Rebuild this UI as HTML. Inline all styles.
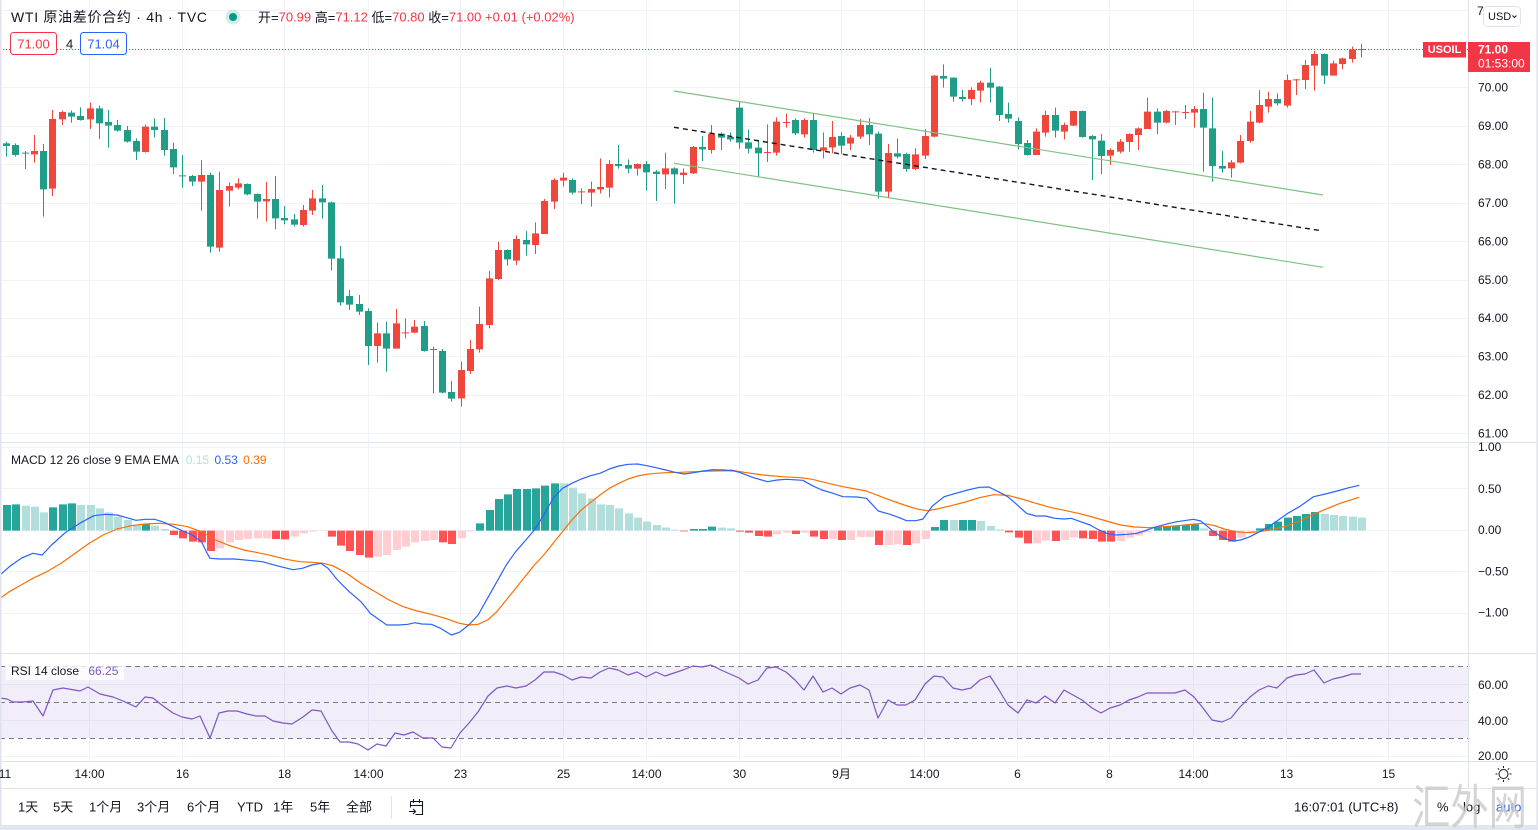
<!DOCTYPE html>
<html><head><meta charset="utf-8"><style>
html,body{margin:0;padding:0;background:#fff;width:1538px;height:830px;overflow:hidden}
svg{position:absolute;left:0;top:0;display:block}
</style></head><body>
<svg xmlns="http://www.w3.org/2000/svg" width="1538" height="830" viewBox="0 0 1538 830" font-family="'Liberation Sans','Noto Sans CJK SC',sans-serif">
<rect x="0" y="0" width="1538" height="830" fill="#fff"/>
<!-- grid -->
<g stroke="#f0f3fa" stroke-width="1">
<path d="M0 10.5H1468M0 49.5H1468M0 87.5H1468M0 126.5H1468M0 164.5H1468M0 203.5H1468M0 241.5H1468M0 280.5H1468M0 318.5H1468M0 356.5H1468M0 395.5H1468M0 433.5H1468M0 447.5H1468M0 488.5H1468M0 530.5H1468M0 571.5H1468M0 613.5H1468M0 684.5H1468M0 720.5H1468M0 756.5H1468"/>
<path d="M89.5 0V762M182.5 0V762M284.5 0V762M368.5 0V762M460.5 0V762M563.5 0V762M646.5 0V762M739.5 0V762M841.5 0V762M924.5 0V762M1017.5 0V762M1109.5 0V762M1193.5 0V762M1286.5 0V762M1388.5 0V762"/>
</g>
<!-- RSI band -->
<rect x="0" y="666" width="1468" height="72" fill="#7e57c2" fill-opacity="0.1"/>
<g stroke="#787b86" stroke-width="1" stroke-dasharray="5,4" fill="none">
<path d="M0 666.5H1468M0 702.5H1468M0 738.5H1468"/>
</g>
<!-- candles group A -->
<g transform="translate(0,90) scale(1,0.3333333)">
<path fill="#1f9d87" d="M6 155h1v45h-1zM3 160h7v8h-7zM15 160h1v40h-1zM12 165h7v30h-7zM25 183h1v54h-1zM22 188h7v3h-7zM43 162h1v218h-1zM40 183h7v115h-7zM71 62h1v36h-1zM68 68h7v12h-7zM80 52h1v40h-1zM77 78h7v12h-7zM99 47h1v100h-1zM96 55h7v45h-7zM108 60h1v113h-1zM105 96h7v11h-7zM117 90h1v35h-1zM114 105h7v17h-7zM127 108h1v50h-1zM124 120h7v35h-7zM136 145h1v65h-1zM133 153h7v32h-7zM154 85h1v57h-1zM151 110h7v10h-7zM164 84h1v113h-1zM161 120h7v60h-7zM173 158h1v94h-1zM170 177h7v55h-7zM182 195h1v98h-1zM179 256h7v3h-7zM192 255h1v33h-1zM189 258h7v17h-7zM210 248h1v240h-1zM207 255h7v215h-7zM247 280h1v36h-1zM244 282h7v31h-7zM257 310h1v76h-1zM254 312h7v23h-7zM275 258h1v160h-1zM272 327h7v58h-7zM284 348h1v55h-1zM281 384h7v7h-7zM294 372h1v38h-1zM291 388h7v16h-7zM322 285h1v101h-1zM319 325h7v12h-7zM331 335h1v207h-1zM328 337h7v169h-7zM340 468h1v179h-1zM337 505h7v132h-7zM349 600h1v60h-1zM346 618h7v26h-7zM359 615h1v60h-1zM356 642h7v23h-7zM368 655h1v170h-1zM365 663h7v105h-7zM386 695h1v150h-1zM383 730h7v46h-7zM424 693h1v92h-1zM421 708h7v75h-7zM433 770h1v140h-1zM430 777h7v3h-7zM442 777h1v133h-1zM439 783h7v125h-7zM451 873h1v62h-1zM448 906h7v20h-7zM507 478h1v49h-1zM504 480h7v28h-7zM526 423h1v74h-1zM523 450h7v13h-7zM572 265h1v48h-1zM569 270h7v38h-7zM618 165h1v71h-1zM615 222h7v6h-7zM628 208h1v42h-1zM625 225h7v11h-7zM646 213h1v89h-1zM643 222h7v25h-7zM656 240h1v93h-1zM653 245h7v7h-7zM674 232h1v109h-1zM671 235h7v18h-7zM702 138h1v75h-1zM699 171h7v7h-7zM721 127h1v53h-1zM718 131h7v12h-7zM730 127h1v28h-1zM727 141h7v7h-7zM739 35h1v141h-1zM736 53h7v105h-7zM748 118h1v72h-1zM745 157h7v19h-7zM758 150h1v112h-1zM755 173h7v17h-7zM795 85h1v50h-1zM792 90h7v40h-7zM813 70h1v118h-1zM810 90h7v90h-7zM841 127h1v65h-1zM838 138h7v29h-7zM869 84h1v81h-1zM866 105h7v28h-7zM878 125h1v200h-1zM875 131h7v174h-7zM897 145h1v60h-1zM894 190h7v10h-7zM906 188h1v57h-1zM903 192h7v45h-7z"/>
<path fill="#f0473d" d="M34 135h1v83h-1zM31 183h7v10h-7zM52 60h1v258h-1zM49 87h7v209h-7zM62 62h1v43h-1zM59 66h7v22h-7zM90 38h1v79h-1zM87 55h7v33h-7zM145 104h1v84h-1zM142 110h7v76h-7zM201 210h1v152h-1zM198 255h7v20h-7zM219 245h1v240h-1zM216 300h7v173h-7zM229 277h1v73h-1zM226 288h7v14h-7zM238 265h1v33h-1zM235 280h7v13h-7zM266 276h1v119h-1zM263 327h7v7h-7zM303 345h1v65h-1zM300 360h7v45h-7zM312 300h1v75h-1zM309 325h7v37h-7zM377 697h1v121h-1zM374 730h7v38h-7zM396 657h1v119h-1zM393 700h7v76h-7zM405 685h1v60h-1zM402 727h7v3h-7zM414 690h1v40h-1zM411 710h7v18h-7zM461 815h1v135h-1zM458 840h7v85h-7zM470 750h1v102h-1zM467 777h7v66h-7zM479 650h1v138h-1zM476 702h7v76h-7zM489 543h1v172h-1zM486 565h7v140h-7zM498 455h1v115h-1zM495 480h7v87h-7zM516 437h1v88h-1zM513 447h7v65h-7zM535 397h1v95h-1zM532 430h7v35h-7zM544 327h1v105h-1zM541 333h7v99h-7zM554 265h1v92h-1zM551 270h7v65h-7zM563 248h1v42h-1zM560 263h7v9h-7zM581 295h1v47h-1zM578 304h7v3h-7zM591 275h1v75h-1zM588 297h7v11h-7zM600 205h1v105h-1zM597 291h7v7h-7zM609 210h1v113h-1zM606 222h7v71h-7zM637 220h1v37h-1zM634 222h7v14h-7zM665 188h1v109h-1zM662 235h7v18h-7zM683 235h1v47h-1zM680 248h7v7h-7zM693 168h1v84h-1zM690 171h7v79h-7zM711 105h1v86h-1zM708 131h7v49h-7zM767 103h1v113h-1zM764 186h7v3h-7zM776 82h1v115h-1zM773 95h7v93h-7zM786 70h1v43h-1zM783 96h7v3h-7zM804 85h1v58h-1zM801 90h7v43h-7zM823 127h1v78h-1zM820 172h7v10h-7zM832 93h1v97h-1zM829 141h7v31h-7zM850 135h1v45h-1zM847 143h7v18h-7zM860 87h1v60h-1zM857 105h7v35h-7zM888 162h1v163h-1zM885 189h7v116h-7zM915 175h1v65h-1zM912 193h7v44h-7zM925 118h1v89h-1zM922 138h7v59h-7z"/>
</g>
<!-- candles group B -->
<g transform="translate(0,40) scale(1,0.3333333)">
<path fill="#1f9d87" d="M943 73h1v70h-1zM940 108h7v8h-7zM953 112h1v73h-1zM950 113h7v57h-7zM962 150h1v35h-1zM959 171h7v6h-7zM990 84h1v103h-1zM987 128h7v15h-7zM999 138h1v105h-1zM996 140h7v85h-7zM1008 188h1v60h-1zM1005 222h7v14h-7zM1018 232h1v96h-1zM1015 243h7v69h-7zM1027 300h1v47h-1zM1024 309h7v36h-7zM1055 203h1v90h-1zM1052 225h7v47h-7zM1082 212h1v81h-1zM1079 213h7v78h-7zM1092 285h1v135h-1zM1089 288h7v10h-7zM1101 282h1v120h-1zM1098 302h7v46h-7zM1157 205h1v77h-1zM1154 215h7v33h-7zM1203 158h1v237h-1zM1200 207h7v56h-7zM1212 172h1v253h-1zM1209 265h7v113h-7zM1222 333h1v65h-1zM1219 378h7v8h-7zM1277 160h1v37h-1zM1274 177h7v13h-7zM1324 40h1v92h-1zM1321 42h7v65h-7z"/>
<path fill="#f0473d" d="M934 105h1v187h-1zM931 107h7v183h-7zM971 142h1v53h-1zM968 150h7v27h-7zM980 122h1v65h-1zM977 128h7v24h-7zM1036 265h1v80h-1zM1033 275h7v70h-7zM1045 212h1v78h-1zM1042 225h7v53h-7zM1064 248h1v50h-1zM1061 255h7v20h-7zM1073 212h1v46h-1zM1070 213h7v44h-7zM1110 325h1v50h-1zM1107 330h7v17h-7zM1120 297h1v43h-1zM1117 305h7v30h-7zM1129 280h1v55h-1zM1126 282h7v24h-7zM1138 262h1v68h-1zM1135 265h7v20h-7zM1147 173h1v94h-1zM1144 215h7v52h-7zM1166 210h1v40h-1zM1163 213h7v35h-7zM1175 213h1v42h-1zM1172 214h7v3h-7zM1185 195h1v42h-1zM1182 216h7v3h-7zM1194 198h1v65h-1zM1191 207h7v11h-7zM1231 360h1v53h-1zM1228 367h7v18h-7zM1240 285h1v85h-1zM1237 303h7v65h-7zM1250 213h1v95h-1zM1247 245h7v58h-7zM1259 150h1v100h-1zM1256 195h7v53h-7zM1268 155h1v63h-1zM1265 177h7v23h-7zM1287 103h1v100h-1zM1284 120h7v77h-7zM1296 117h1v48h-1zM1293 118h7v3h-7zM1305 60h1v87h-1zM1302 75h7v45h-7zM1314 33h1v119h-1zM1311 42h7v35h-7zM1333 62h1v45h-1zM1330 70h7v37h-7zM1342 53h1v35h-1zM1339 55h7v17h-7zM1352 20h1v48h-1zM1349 28h7v29h-7zM1361 12h1v41h-1zM1358 27h7v3h-7z"/>
</g>
<!-- trend channel -->
<g fill="none">
<path d="M674 91L1323 195M674 163.3L1323 267.3" stroke="#7dc381" stroke-width="1.2"/>
<path d="M674 127.3L1321 230.7" stroke="#131722" stroke-width="1.4" stroke-dasharray="5,4"/>
</g>
<!-- current price line -->
<path d="M0 49.5H1468" stroke="#f23645" stroke-width="1" stroke-dasharray="1,2"/>
<!-- MACD histogram -->
<g transform="translate(0,455) scale(1,0.3333333)">
<path fill="#26a69a" d="M3 150h8v77h-8zM12 148h8v79h-8zM49 157h8v70h-8zM59 148h8v79h-8zM68 145h8v82h-8zM142 208h8v19h-8zM476 205h8v22h-8zM486 165h8v62h-8zM495 132h8v95h-8zM504 118h8v109h-8zM513 102h8v125h-8zM523 102h8v125h-8zM532 100h8v127h-8zM541 92h8v135h-8zM551 85h8v142h-8zM690 222h8v5h-8zM699 222h8v5h-8zM708 215h8v12h-8zM931 216h8v11h-8zM940 195h8v32h-8zM959 195h8v32h-8zM968 195h8v32h-8zM1154 217h8v10h-8zM1163 213h8v14h-8zM1172 212h8v15h-8zM1182 210h8v17h-8zM1191 208h8v19h-8zM1256 220h8v7h-8zM1265 207h8v20h-8zM1274 200h8v27h-8zM1284 188h8v39h-8zM1293 183h8v44h-8zM1302 177h8v50h-8zM1311 171h8v56h-8z"/>
<path fill="#b2dfdb" d="M22 152h8v75h-8zM31 155h8v72h-8zM40 172h8v55h-8zM77 150h8v77h-8zM87 150h8v77h-8zM96 160h8v67h-8zM105 172h8v55h-8zM114 185h8v42h-8zM124 195h8v32h-8zM133 210h8v17h-8zM151 212h8v15h-8zM161 222h8v5h-8zM560 85h8v142h-8zM569 98h8v129h-8zM578 115h8v112h-8zM588 130h8v97h-8zM597 148h8v79h-8zM606 150h8v77h-8zM615 160h8v67h-8zM625 175h8v52h-8zM634 188h8v39h-8zM643 200h8v27h-8zM653 210h8v17h-8zM662 218h8v9h-8zM671 224h8v3h-8zM718 218h8v9h-8zM727 220h8v7h-8zM950 195h8v32h-8zM977 198h8v29h-8zM987 213h8v14h-8zM996 223h8v4h-8zM1200 220h8v7h-8zM1321 177h8v50h-8zM1330 180h8v47h-8zM1339 183h8v44h-8zM1349 185h8v42h-8zM1358 188h8v39h-8z"/>
<path fill="#ff5252" d="M170 227h8v13h-8zM179 227h8v23h-8zM189 227h8v33h-8zM198 227h8v35h-8zM207 227h8v61h-8zM272 227h8v25h-8zM281 227h8v26h-8zM328 227h8v18h-8zM337 227h8v45h-8zM346 227h8v61h-8zM356 227h8v73h-8zM365 227h8v81h-8zM439 227h8v35h-8zM448 227h8v40h-8zM680 227h8v2h-8zM736 227h8v3h-8zM745 227h8v6h-8zM755 227h8v16h-8zM764 227h8v18h-8zM792 227h8v10h-8zM810 227h8v18h-8zM820 227h8v25h-8zM838 227h8v28h-8zM875 227h8v43h-8zM903 227h8v43h-8zM1005 227h8v5h-8zM1015 227h8v21h-8zM1024 227h8v38h-8zM1052 227h8v31h-8zM1079 227h8v23h-8zM1089 227h8v25h-8zM1098 227h8v33h-8zM1107 227h8v33h-8zM1209 227h8v16h-8zM1219 227h8v28h-8zM1228 227h8v33h-8z"/>
<path fill="#ffcdd2" d="M216 227h8v53h-8zM226 227h8v35h-8zM235 227h8v28h-8zM244 227h8v25h-8zM254 227h8v23h-8zM263 227h8v23h-8zM291 227h8v18h-8zM300 227h8v8h-8zM309 227h8v3h-8zM319 227h8v1h-8zM374 227h8v78h-8zM383 227h8v73h-8zM393 227h8v58h-8zM402 227h8v48h-8zM411 227h8v35h-8zM421 227h8v31h-8zM430 227h8v28h-8zM458 227h8v23h-8zM467 227h8v3h-8zM773 227h8v11h-8zM783 227h8v6h-8zM801 227h8v6h-8zM829 227h8v25h-8zM847 227h8v28h-8zM857 227h8v19h-8zM866 227h8v19h-8zM885 227h8v43h-8zM894 227h8v41h-8zM912 227h8v38h-8zM922 227h8v25h-8zM1033 227h8v38h-8zM1042 227h8v30h-8zM1061 227h8v28h-8zM1070 227h8v20h-8zM1117 227h8v31h-8zM1126 227h8v21h-8zM1135 227h8v15h-8zM1144 227h8v5h-8zM1237 227h8v21h-8zM1247 227h8v8h-8z"/>
</g>
<!-- MACD lines -->
<g transform="translate(0,455) scale(0.46875,0.3333333)" fill="none" stroke-width="1.2" stroke-linejoin="round">
<polyline vector-effect="non-scaling-stroke" stroke="#ff6d00" points="0,430 20,410 45,390 70,370 100,350 130,325 160,295 190,265 220,240 250,222 280,212 310,207 340,205 370,208 400,215 430,230 460,255 490,272 520,285 550,293 580,302 610,313 640,320 665,322 690,325 710,332 740,355 770,385 800,410 830,435 860,455 890,468 920,478 950,490 980,505 1000,510 1020,508 1040,495 1060,470 1080,435 1100,400 1120,365 1140,330 1160,300 1180,265 1200,230 1220,195 1240,165 1260,142 1280,120 1300,100 1320,85 1340,72 1360,63 1380,58 1400,55 1420,53 1450,52 1480,50 1520,48 1568,47"/>
<polyline vector-effect="non-scaling-stroke" stroke="#2962ff" points="0,360 20,335 45,310 70,295 90,300 110,270 140,232 170,205 200,182 225,178 250,180 270,188 290,196 310,193 330,193 350,202 370,215 390,228 410,240 430,260 440,290 448,310 470,312 500,312 530,316 560,320 590,332 625,344 645,340 665,330 685,325 700,340 720,375 745,410 770,440 790,475 810,495 825,510 850,510 870,508 885,503 900,507 920,508 940,520 963,540 980,532 1000,510 1020,480 1040,430 1060,380 1080,330 1100,290 1120,258 1140,225 1160,180 1180,130 1200,100 1220,85 1240,72 1260,62 1280,55 1300,42 1320,33 1340,28 1360,27 1380,32 1400,38 1420,45 1440,52 1460,57 1480,53 1500,48 1520,44 1545,45 1568,48"/>
</g>
<g transform="translate(730,455) scale(0.47065,0.3333333)" fill="none" stroke-width="1.2" stroke-linejoin="round">
<polyline vector-effect="non-scaling-stroke" stroke="#ff6d00" points="0,45 30,52 70,60 110,65 150,68 175,73 200,82 240,95 290,108 330,130 370,150 400,163 420,167 440,162 470,152 500,141 530,128 560,119 590,121 620,132 650,145 680,157 710,166 740,175 770,186 800,198 830,210 860,216 890,218 920,215 950,212 980,208 1005,205 1030,212 1050,222 1075,230 1100,233 1125,230 1150,224 1180,214 1210,198 1240,178 1270,160 1300,143 1337,127"/>
<polyline vector-effect="non-scaling-stroke" stroke="#2962ff" points="0,45 20,52 50,68 80,80 100,75 120,73 155,76 175,92 195,105 215,113 240,125 270,126 290,130 315,168 340,178 360,188 375,197 395,197 410,192 430,153 455,125 480,115 505,105 530,97 550,96 570,110 590,125 605,143 630,175 650,183 670,183 690,190 710,192 725,190 745,200 765,210 780,222 800,235 820,240 845,238 865,235 880,228 900,218 925,208 950,200 985,193 1000,198 1015,215 1030,233 1050,250 1070,258 1085,255 1105,245 1125,230 1145,215 1165,195 1185,175 1210,155 1240,125 1265,117 1290,108 1315,98 1337,91"/>
</g>
<!-- RSI line -->
<polyline fill="none" stroke="#7e57c2" stroke-width="1.2" stroke-linejoin="round" points="0,698 7,699 13,702 23,702 33,701 43,716 53,690 63,688 80,691 88,687 100,694 113,697 123,701 136,707 145,697 153,698 163,706 173,713 182,717 192,719 200,716 210,738 219,713 228,711 237,711 247,714 256,716 265,716 273,721 283,723 292,724 303,717 312,710 321,711 332,731 340,742 349,742 358,744 368,750 377,744 386,746 395,733 404,735 413,732 423,738 433,738 442,747 451,748 460,733 469,723 478,712 488,696 497,688 507,686 516,688 526,686 535,680 544,672 554,672 563,675 572,680 581,677 591,678 600,672 609,668 618,670 628,675 637,672 646,677 656,672 665,676 674,673 683,670 693,666 702,667 711,665 721,670 730,674 739,678 748,684 758,680 767,668 776,667 786,672 795,680 804,690 813,676 823,692 832,688 841,694 850,688 860,685 869,690 878,718 888,700 897,705 906,705 915,700 925,684 934,676 943,677 953,688 962,690 971,688 980,680 990,676 999,690 1008,705 1018,713 1027,700 1036,703 1045,696 1055,703 1064,690 1073,695 1082,700 1092,708 1101,713 1110,708 1120,705 1129,700 1138,697 1147,693 1157,693 1166,693 1175,693 1185,690 1194,697 1203,708 1212,720 1222,722 1231,718 1240,707 1250,697 1259,690 1268,686 1277,688 1287,678 1296,675 1305,674 1314,670 1324,683 1333,679 1342,677 1352,674 1361,674"/>
<!-- separators / borders -->
<g stroke="#e0e3eb" stroke-width="1">
<path d="M0 442.5H1538M0 653.5H1538M0 761.5H1538M0 788.5H1538M1468.5 0V788"/>
</g>
<rect x="0" y="0" width="1.5" height="826" fill="#e0e3eb"/>
<rect x="1536.5" y="0" width="1.5" height="826" fill="#e0e3eb"/>
<rect x="0" y="825" width="1538" height="5" fill="#e3e6ee"/>
<!-- right axis labels -->
<g font-size="12" fill="#131722" dominant-baseline="central">
<text x="1477" y="11">72.00</text>
<text x="1478" y="87.5">70.00</text>
<text x="1478" y="126">69.00</text>
<text x="1478" y="164.5">68.00</text>
<text x="1478" y="203">67.00</text>
<text x="1478" y="241.5">66.00</text>
<text x="1478" y="280">65.00</text>
<text x="1478" y="318">64.00</text>
<text x="1478" y="356.5">63.00</text>
<text x="1478" y="395">62.00</text>
<text x="1478" y="433.5">61.00</text>
<text x="1478" y="447">1.00</text>
<text x="1478" y="489">0.50</text>
<text x="1478" y="530">0.00</text>
<text x="1478" y="571.5">−0.50</text>
<text x="1478" y="612.5">−1.00</text>
<text x="1478" y="685">60.00</text>
<text x="1478" y="721">40.00</text>
<text x="1478" y="756">20.00</text>
</g>
<!-- USD button -->
<rect x="1483.5" y="6.5" width="37" height="20" rx="4" fill="#fff" stroke="#e0e3eb"/>
<text x="1488" y="17" font-size="11" fill="#131722" dominant-baseline="central">USD</text>
<path d="M1512.5 15.5l2 2 2-2" stroke="#131722" stroke-width="1" fill="none"/>
<!-- price labels -->
<rect x="1423" y="42" width="43" height="15.5" fill="#f23645"/>
<text x="1444.5" y="50" font-size="11" font-weight="bold" fill="#fff" text-anchor="middle" dominant-baseline="central">USOIL</text>
<rect x="1468" y="42" width="62" height="30" fill="#f23645"/>
<text x="1478" y="49.5" font-size="12" font-weight="bold" fill="#fff" dominant-baseline="central">71.00</text>
<text x="1478" y="63.5" font-size="12" fill="#fff" dominant-baseline="central">01:53:00</text>
<!-- header -->
<text x="11" y="17" font-size="14" fill="#131722" dominant-baseline="central" textLength="196" lengthAdjust="spacing">WTI 原油差价合约 · 4h · TVC</text>
<circle cx="233" cy="17" r="7.5" fill="#b2dfdb" fill-opacity="0.6"/>
<circle cx="233" cy="17" r="4" fill="#089981"/>
<text x="258" y="17" font-size="13" dominant-baseline="central" fill="#f23645"><tspan fill="#131722">开=</tspan>70.99 <tspan fill="#131722">高=</tspan>71.12 <tspan fill="#131722">低=</tspan>70.80 <tspan fill="#131722">收=</tspan>71.00 +0.01 (+0.02%)</text>
<rect x="10.5" y="32.5" width="46" height="22" rx="3" fill="#fff" stroke="#f23645"/>
<text x="33.5" y="44" font-size="13" fill="#f23645" text-anchor="middle" dominant-baseline="central">71.00</text>
<text x="66" y="44" font-size="13" fill="#131722" dominant-baseline="central">4</text>
<rect x="80.5" y="32.5" width="46" height="22" rx="3" fill="#fff" stroke="#2962ff"/>
<text x="103.5" y="44" font-size="13" fill="#2962ff" text-anchor="middle" dominant-baseline="central">71.04</text>
<!-- MACD legend -->
<text x="11" y="460" font-size="12" fill="#131722" dominant-baseline="central">MACD 12 26 close 9 EMA EMA <tspan fill="#b2dfdb" dx="4">0.15</tspan> <tspan fill="#2962ff" dx="2">0.53</tspan> <tspan fill="#ff6d00" dx="2">0.39</tspan></text>
<!-- RSI legend -->
<rect x="6" y="662" width="118" height="18" fill="#fff" fill-opacity="0.75"/>
<text x="11" y="671" font-size="12" fill="#131722" dominant-baseline="central">RSI 14 close <tspan fill="#7e57c2" dx="6">66.25</tspan></text>
<!-- time axis -->
<g font-size="12" fill="#131722" text-anchor="middle" dominant-baseline="central">
<text x="5" y="774">11</text>
<text x="89.5" y="774">14:00</text>
<text x="182.5" y="774">16</text>
<text x="284.5" y="774">18</text>
<text x="368.5" y="774">14:00</text>
<text x="460.5" y="774">23</text>
<text x="563.5" y="774">25</text>
<text x="646.5" y="774">14:00</text>
<text x="739.5" y="774">30</text>
<text x="841.5" y="774">9月</text>
<text x="924.5" y="774">14:00</text>
<text x="1017.5" y="774">6</text>
<text x="1109.5" y="774">8</text>
<text x="1193.5" y="774">14:00</text>
<text x="1286.5" y="774">13</text>
<text x="1388.5" y="774">15</text>
</g>
<!-- settings sun icon -->
<g stroke="#131722" stroke-width="1" fill="none">
<circle cx="1503.5" cy="774" r="4.5"/>
<path d="M1503.5 766v2M1503.5 780v2M1495.5 774h2M1509.5 774h2M1497.8 768.3l1.4 1.4M1507.8 778.3l1.4 1.4M1497.8 779.7l1.4-1.4M1507.8 769.7l1.4-1.4"/>
</g>
<!-- toolbar -->
<g font-size="13" fill="#131722" dominant-baseline="central">
<text x="18" y="807">1天</text>
<text x="53" y="807">5天</text>
<text x="89" y="807">1个月</text>
<text x="137" y="807">3个月</text>
<text x="187" y="807">6个月</text>
<text x="237" y="807">YTD</text>
<text x="273" y="807">1年</text>
<text x="310" y="807">5年</text>
<text x="346" y="807">全部</text>
<text x="1294" y="807">16:07:01 (UTC+8)</text>
<text x="1437" y="807">%</text>
<text x="1463" y="807">log</text>
<text x="1496" y="807" fill="#2962ff">auto</text>
</g>
<path d="M391.5 796V819" stroke="#e0e3eb"/>
<g stroke="#131722" stroke-width="1.1" fill="none">
<path d="M410.5 801.5h12v13h-7M410.5 801.5v6M410.5 805.5h12M413.5 799v4M419.5 799v4M409 811.5h6M413 809l2.5 2.5-2.5 2.5"/>
</g>
<!-- watermark -->
<text x="1412" y="824" font-size="48" fill="#c9c9c9" fill-opacity="0.8" textLength="115" lengthAdjust="spacingAndGlyphs" font-family="'Noto Sans CJK SC','WenQuanYi Zen Hei',sans-serif">汇外网</text>
</svg>
</body></html>
